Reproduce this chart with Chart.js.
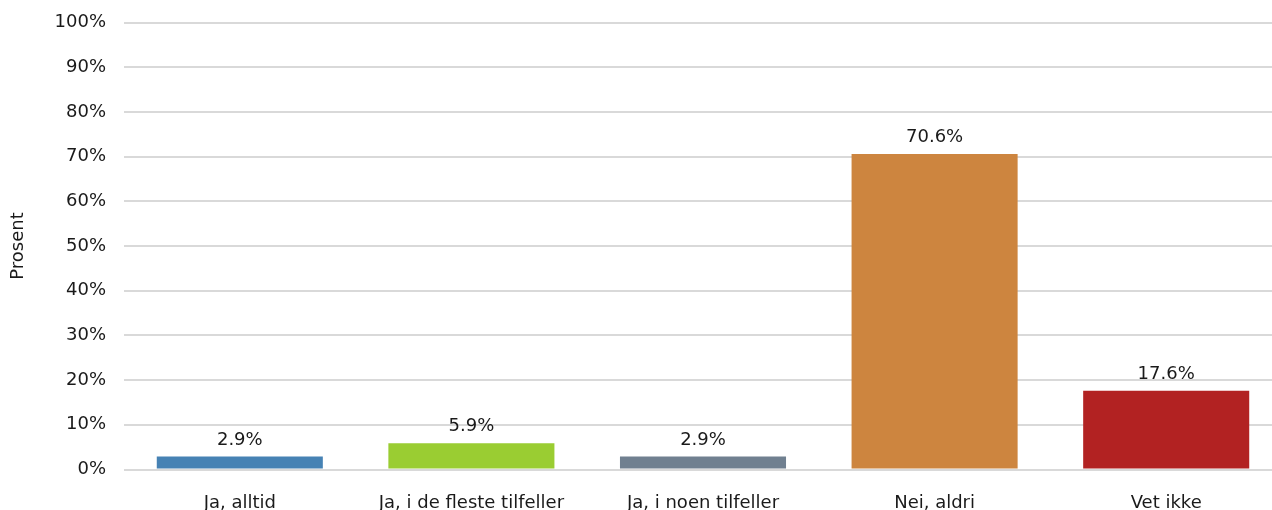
<!DOCTYPE html>
<html>
<head>
<meta charset="utf-8">
<script src="https://cdn.jsdelivr.net/npm/chart.js@4.4.1/dist/chart.umd.min.js"></script>
<style>
  html, body { margin: 0; padding: 0; background: #fff; overflow: hidden; }
  #wrap { width: 1282px; height: 530px; position: relative; }
</style>
</head>
<body>
<div id="wrap"><canvas id="chart"></canvas></div>
<script>
const categories = ["Ja, alltid", "Ja, i de fleste tilfeller", "Ja, i noen tilfeller", "Nei, aldri", "Vet ikke"];
const values = [2.9, 5.9, 2.9, 70.6, 17.6];
const barColors = ["#4682b4", "#9acd32", "#708090", "#cd853f", "#b22222"];
const yTicks = [0, 10, 20, 30, 40, 50, 60, 70, 80, 90, 100];

const fontFamily = "'DejaVu Sans', sans-serif";

// value labels above each bar
const barLabels = {
    id: "barLabels",
    afterDatasetsDraw(chart) {
        const ctx = chart.ctx;
        const meta = chart.getDatasetMeta(0);
        ctx.save();
        ctx.font = "18px " + fontFamily;
        ctx.fillStyle = "#1a1a1a";
        ctx.textAlign = "center";
        ctx.textBaseline = "alphabetic";
        meta.data.forEach(function(bar, i) {
            ctx.fillText(values[i].toFixed(1) + "%", bar.x, bar.y - 12);
        });
        ctx.restore();
    }
};

new Chart(document.getElementById("chart"), {
    type: "bar",
    data: {
        labels: categories,
        datasets: [{
            data: values,
            backgroundColor: barColors,
            categoryPercentage: 1,
            barPercentage: 0.717
        }]
    },
    options: {
        responsive: true,
        maintainAspectRatio: false,
        animation: false,
        layout: { padding: { top: 22.5, right: 0, left: 0, bottom: 0 } },
        plugins: {
            legend: { display: false },
            tooltip: { enabled: false }
        },
        scales: {
            x: {
                grid: { display: false },
                border: { display: false },
                ticks: {
                    color: "#1a1a1a",
                    font: { family: fontFamily, size: 18 },
                    padding: 15,
                    maxRotation: 0
                },
                afterFit(scale) { scale.height = 60.5; }
            },
            y: {
                min: 0,
                max: 100,
                afterBuildTicks(scale) {
                    scale.ticks = yTicks.map(v => ({ value: v }));
                },
                grid: { color: "#d9d9d9", lineWidth: 2, drawTicks: false },
                border: { display: false },
                ticks: {
                    color: "#1a1a1a",
                    font: { family: fontFamily, size: 18 },
                    padding: 18,
                    callback: v => v + "%"
                },
                title: {
                    display: true,
                    text: "Prosent",
                    color: "#1a1a1a",
                    font: { family: fontFamily, size: 18 },
                    padding: { top: 8, bottom: 0 }
                },
                afterFit(scale) {
                    scale.width = 124;
                    scale.paddingTop = 0;
                    scale.paddingBottom = 0;
                }
            }
        }
    },
    plugins: [barLabels]
});
</script>
</body>
</html>
